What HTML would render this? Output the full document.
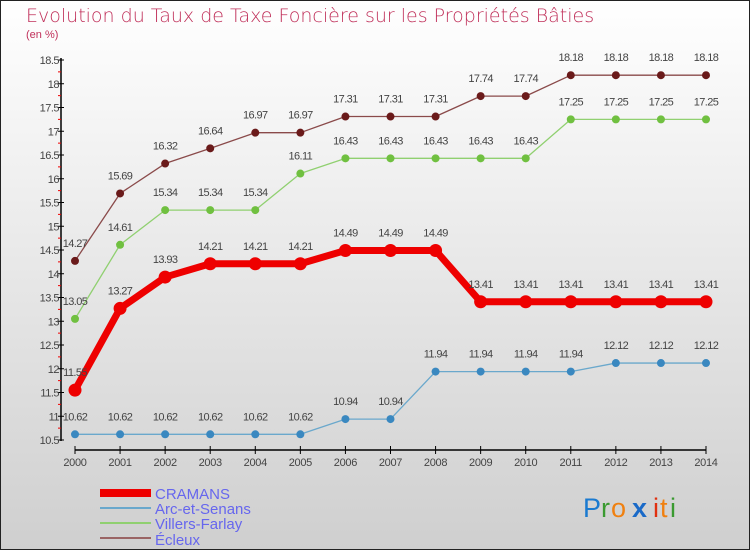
<!DOCTYPE html>
<html><head><meta charset="utf-8"><style>
body{margin:0;}
#c{width:750px;height:550px;position:relative;overflow:hidden;}
text{font-family:"Liberation Sans",sans-serif;}
</style></head><body>
<div id="c">
<svg id="s" width="750" height="550" xmlns="http://www.w3.org/2000/svg">
<defs><linearGradient id="bg" x1="0" y1="0" x2="0" y2="1"><stop offset="0" stop-color="#ffffff"/><stop offset="1" stop-color="#cfcfcf"/></linearGradient></defs>
<rect x="0.5" y="0.5" width="749" height="549" fill="url(#bg)" stroke="#222"/>
<text x="26" y="22" font-size="19" fill="#c0305a" style="font-family:'DejaVu Sans',sans-serif;font-weight:200">Evolution du Taux de Taxe Foncière sur les Propriétés Bâties</text>
<text x="26" y="38" font-size="11" fill="#c0305a">(en %)</text>
<g id="axes"></g><g id="series"></g>
<g>
<rect x="100" y="489" width="51" height="8" fill="#ee0000"/>
<text x="155" y="499" font-size="15" fill="#6666ee">CRAMANS</text>
<rect x="100" y="507" width="51" height="2" fill="#6aa8cc"/>
<text x="155" y="514" font-size="15" fill="#6666ee">Arc-et-Senans</text>
<rect x="100" y="522" width="51" height="2" fill="#90d070"/>
<text x="155" y="529" font-size="15" fill="#6666ee">Villers-Farlay</text>
<rect x="100" y="537" width="51" height="2" fill="#9a6464"/>
<text x="155" y="545" font-size="15" fill="#6666ee">Écleux</text>
</g>
<g font-size="27">
<text x="583" y="517" fill="#1a7ad0">P</text><text x="601" y="517" fill="#3a9a30">r</text><text x="611" y="517" fill="#f08010">o</text><text x="632" y="517" fill="#1a6ac8" font-weight="bold">x</text><text x="653" y="517" fill="#e03010">i</text><text x="660" y="517" fill="#f08010">t</text><text x="670" y="517" fill="#3a9a30">i</text>
</g>
</svg></div>
<script>
const years=[2000,2001,2002,2003,2004,2005,2006,2007,2008,2009,2010,2011,2012,2013,2014];
const cramans=[11.55,13.27,13.93,14.21,14.21,14.21,14.49,14.49,14.49,13.41,13.41,13.41,13.41,13.41,13.41];
const arc=[10.62,10.62,10.62,10.62,10.62,10.62,10.94,10.94,11.94,11.94,11.94,11.94,12.12,12.12,12.12];
const villers=[13.05,14.61,15.34,15.34,15.34,16.11,16.43,16.43,16.43,16.43,16.43,17.25,17.25,17.25,17.25];
const ecleux=[14.27,15.69,16.32,16.64,16.97,16.97,17.31,17.31,17.31,17.74,17.74,18.18,18.18,18.18,18.18];
const yTicks=[10.5,11,11.5,12,12.5,13,13.5,14,14.5,15,15.5,16,16.5,17,17.5,18,18.5];
const NS="http://www.w3.org/2000/svg";
const x=i=>75+i*(706-75)/(years.length-1);
const y=v=>440-(v-10.5)*47.5;
function mk(t,a,p){const e=document.createElementNS(NS,t);for(const k in a)e.setAttribute(k,a[k]);p.appendChild(e);return e;}
const ax=document.getElementById('axes');
mk('line',{x1:61,y1:58,x2:61,y2:441,stroke:'#000','stroke-width':1.5},ax);
mk('line',{x1:75,y1:450,x2:706,y2:450,stroke:'#000','stroke-width':1.5},ax);
yTicks.forEach(v=>{
  mk('line',{x1:58,y1:y(v),x2:64,y2:y(v),stroke:'#000'},ax);
  if(v<18.5) mk('line',{x1:58,y1:y(v+0.25),x2:61,y2:y(v+0.25),stroke:'#e00'},ax);
  const t=mk('text',{x:59,y:y(v)+4,'font-size':11,fill:'#444','text-anchor':'end','letter-spacing':'-0.5'},ax);
  t.textContent=String(v);
  
  
});
years.forEach((yr,i)=>{
  mk('line',{x1:x(i),y1:446,x2:x(i),y2:454,stroke:'#000'},ax);
  const t=mk('text',{x:x(i),y:466,'font-size':11,fill:'#444','text-anchor':'middle','letter-spacing':'-0.3'},ax);
  t.textContent=yr;
  
  
});
const sg=document.getElementById('series');
function series(vals,name,color,dot,w,r){
  const g=mk('g',{},sg);
  
  
  mk('polyline',{points:vals.map((v,i)=>x(i)+','+y(v)).join(' '),fill:'none',stroke:color,'stroke-width':w,'stroke-linejoin':'round'},g);
  vals.forEach((v,i)=>{
    const c=mk('circle',{cx:x(i),cy:y(v),r:r,fill:dot},g);
    
    
    const t=mk('text',{x:x(i),y:y(v)-14,'font-size':11,fill:'#444','text-anchor':'middle','letter-spacing':'-0.6'},g);
    t.textContent=v.toFixed(2).replace(/0$/,'');
    
    
  });
}
series(ecleux,'ecleux','#8a4a4a','#6a1a1a',1.3,4);
series(villers,'villers','#90d070','#70c040',1.3,4);
series(arc,'arc','#6aa8cc','#3a88c0',1.3,4);
series(cramans,'cramans','#ee0000','#ee0000',7,6.5);
</script>
</body></html>
